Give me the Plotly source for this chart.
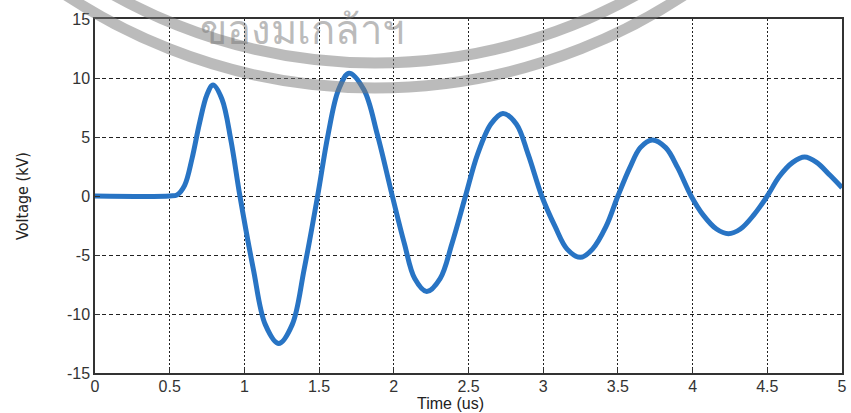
import plotly.graph_objects as go

# Impulse response waveform: time in microseconds, voltage in kV
time_us = [0, 0.5, 0.55, 0.6, 0.65, 0.7, 0.75, 0.79, 0.85, 0.91, 0.97,
           1.06, 1.14, 1.23, 1.32, 1.40, 1.49,
           1.56, 1.63, 1.70, 1.80, 1.89, 1.99,
           2.07, 2.14, 2.22, 2.31, 2.39, 2.48,
           2.56, 2.65, 2.73, 2.82, 2.90, 2.99,
           3.08, 3.16, 3.25, 3.33, 3.42, 3.50,
           3.58, 3.65, 3.73, 3.82, 3.90, 3.99,
           4.07, 4.16, 4.24, 4.32, 4.41, 4.50,
           4.58, 4.67, 4.75, 4.83, 4.92, 5.0]
voltage_kv = [0, 0, 0.1, 0.9, 3.2, 6.2, 8.6, 9.4, 8.2, 4.7, 0,
              -6.2, -10.9, -12.5, -10.9, -6.2, 0,
              5.2, 9.0, 10.4, 9.0, 5.2, 0,
              -4.0, -7.0, -8.1, -7.0, -4.0, 0,
              3.5, 6.1, 7.0, 6.1, 3.5, 0,
              -2.6, -4.5, -5.2, -4.5, -2.6, 0,
              2.4, 4.1, 4.75, 4.1, 2.4, 0,
              -1.6, -2.8, -3.2, -2.8, -1.6, 0,
              1.65, 2.85, 3.3, 2.85, 1.75, 0.7]

x_ticks = [0, 0.5, 1, 1.5, 2, 2.5, 3, 3.5, 4, 4.5, 5]
x_tick_text = ["0", "0.5", "1", "1.5", "2", "2.5", "3", "3.5", "4", "4.5", "5"]
y_ticks = [-15, -10, -5, 0, 5, 10, 15]
y_tick_text = ["-15", "-10", "-5", "0", "5", "10", "15"]

W, H = 851, 413
ML, MR, MT, MB = 95, 9, 19, 40
PW, PH = W - ML - MR, H - MT - MB


def px_to_paper(px, py):
    return (px - ML) / PW, (H - MB - py) / PH


fig = go.Figure()
fig.add_trace(go.Scatter(
    x=time_us, y=voltage_kv, mode="lines",
    line=dict(color="#2874c4", width=5, shape="spline", smoothing=1.0),
    hoverinfo="skip", showlegend=False,
))

# Seal stamp rings across the top of the sheet
shapes = []
cx, cy = 375, -472
for r in (560, 535):
    x0, y1 = px_to_paper(cx - r, cy + r)
    x1, y0 = px_to_paper(cx + r, cy - r)
    shapes.append(dict(type="circle", xref="paper", yref="paper",
                       x0=x0, x1=x1, y0=y0, y1=y1,
                       line=dict(color="rgba(120,120,120,0.5)", width=11),
                       layer="above"))

axis_font = dict(family="Liberation Sans, Arial, sans-serif", size=16, color="#333")

fig.update_layout(
    width=W, height=H,
    margin=dict(l=ML, r=MR, t=MT, b=MB),
    paper_bgcolor="white", plot_bgcolor="white",
    shapes=shapes,
    xaxis=dict(
        range=[0, 5], tickvals=x_ticks, ticktext=x_tick_text,
        showgrid=True, gridcolor="#222", gridwidth=1.2, griddash="2px,2px",
        zeroline=False, showline=True, linecolor="#333", linewidth=1.5,
        mirror=True, ticks="inside", ticklen=5, tickcolor="#333",
        tickfont=axis_font, automargin=False, ticklabelstandoff=-2,
    ),
    yaxis=dict(
        range=[-15, 15], tickvals=y_ticks, ticktext=y_tick_text,
        showgrid=True, gridcolor="#222", gridwidth=1.2, griddash="4px,3px",
        zeroline=False, showline=True, linecolor="#333", linewidth=1.5,
        mirror=True, ticks="inside", ticklen=5, tickcolor="#333",
        tickfont=axis_font, automargin=False,
        title=dict(text="Voltage (kV)", standoff=34,
                   font=dict(family="DejaVu Sans Condensed, Liberation Sans, sans-serif",
                             size=16, color="#222")),
    ),
)

# Horizontal axis title, set just under the tick labels
fig.add_annotation(
    text="Time (us)", xref="paper", yref="paper",
    x=px_to_paper(450, 0)[0], y=px_to_paper(0, 403)[1],
    xanchor="center", yanchor="middle", showarrow=False,
    font=dict(family="Liberation Sans, Arial, sans-serif", size=16, color="#222"),
)

fig.add_annotation(
    text="ของมเกล้าฯ", xref="paper", yref="paper",
    x=px_to_paper(302, 0)[0], y=px_to_paper(0, 29)[1],
    xanchor="center", yanchor="middle",
    showarrow=False,
    font=dict(family="Noto Sans, sans-serif", size=40, color="rgba(120,120,120,0.5)"),
)

fig.write_html("out.html")
